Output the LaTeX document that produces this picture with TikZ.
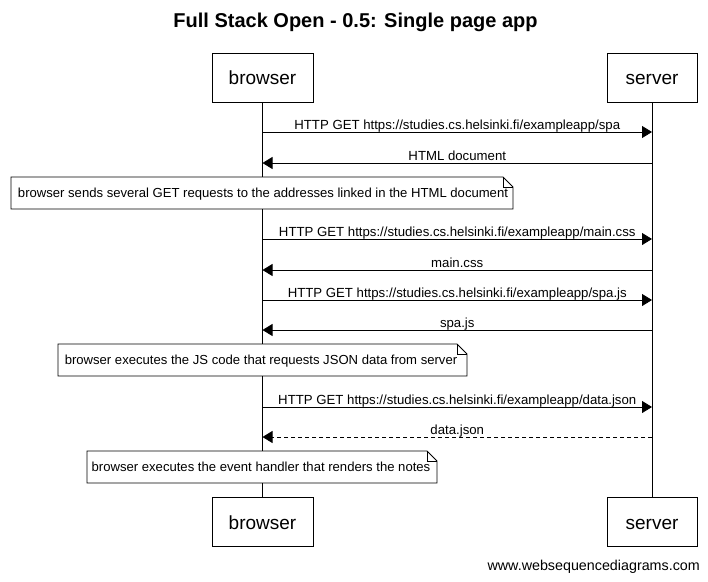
\documentclass[tikz,border=0pt]{standalone}
\usepackage{fontspec}
\setmainfont{Liberation Sans}
\usetikzlibrary{arrows.meta}
\begin{document}
\begin{tikzpicture}[x=1pt,y=-1pt,
  actor/.style={draw,line width=0.8pt,fill=white,minimum width=#1,minimum height=49pt,inner sep=0pt,text height=15pt,text depth=1pt,font=\fontsize{19}{22}\selectfont},
  life/.style={line width=0.8pt},
  msg/.style={line width=0.8pt,-{Triangle[length=10pt,width=12pt]}},
  reply/.style={msg,dash pattern=on 4pt off 3pt},
  lbl/.style={font=\fontsize{13.2}{15}\selectfont,inner sep=0pt,anchor=base,yshift=3pt},
  notetext/.style={font=\fontsize{13.1}{15}\selectfont,inner sep=0pt,text height=10pt,text depth=2pt}
]
\useasboundingbox (0,0) rectangle (708,581);
\newcommand{\mynote}[4]{% x1, y1, x2, y2
  \fill[white] (#1,#2) rectangle (#3,#4);
  \draw[line width=0.8pt] (#1,#2) -- (#3-10,#2) -- (#3,#2+10) -- (#3,#4) -- (#1,#4) -- cycle;
  \draw[line width=0.8pt] (#3-10,#2) -- (#3-10,#2+10) -- (#3,#2+10);
}
% title
\node[font=\bfseries\fontsize{20}{24}\selectfont] (title) at (355.5,22) {Full Stack Open - 0.5: Single page app};
% actors
\node[actor=101pt] (bT) at (262.5,77.5) {browser};
\node[actor=90pt] (sT) at (652,77.5) {server};
\node[actor=101pt] (bB) at (262.5,522) {browser};
\node[actor=90pt] (sB) at (652,522) {server};
\draw[life] (bT.south) -- (bB.north);
\draw[life] (sT.south) -- (sB.north);
% message coordinates
\foreach \n/\y in {1/132,2/163,4/239,5/270,6/300,7/330,9/407,10/437}{
  \coordinate (b\n) at (bT.south |- 0,\y);
  \coordinate (s\n) at (sT.south |- 0,\y);
}
\draw[msg] (b1) -- (s1) node[midway,lbl] (m1) {HTTP GET https://studies.cs.helsinki.fi/exampleapp/spa};
\draw[msg] (s2) -- (b2) node[midway,lbl] (m2) {HTML document};
\mynote{11}{177}{513}{209}
\node[notetext] (n1) at (263,193.5) {browser sends several GET requests to the addresses linked in the HTML document};
\draw[msg] (b4) -- (s4) node[midway,lbl] (m4) {HTTP GET https://studies.cs.helsinki.fi/exampleapp/main.css};
\draw[msg] (s5) -- (b5) node[midway,lbl] (m5) {main.css};
\draw[msg] (b6) -- (s6) node[midway,lbl] (m6) {HTTP GET https://studies.cs.helsinki.fi/exampleapp/spa.js};
\draw[msg] (s7) -- (b7) node[midway,lbl] (m7) {spa.js};
\mynote{58}{344}{467}{376}
\node[notetext] (n2) at (261,360.5) {browser executes the JS code that requests JSON data from server};
\draw[msg] (b9) -- (s9) node[midway,lbl] (m9) {HTTP GET https://studies.cs.helsinki.fi/exampleapp/data.json};
\draw[reply] (s10) -- (b10) node[midway,lbl] (m10) {data.json};
\mynote{87}{451}{437}{483}
\node[notetext] (n3) at (261,467.5) {browser executes the event handler that renders the notes};
\node[font=\fontsize{14.3}{17}\selectfont,anchor=base east,inner sep=0pt] (foot) at (700,570) {www.websequencediagrams.com};
\end{tikzpicture}
\end{document}
